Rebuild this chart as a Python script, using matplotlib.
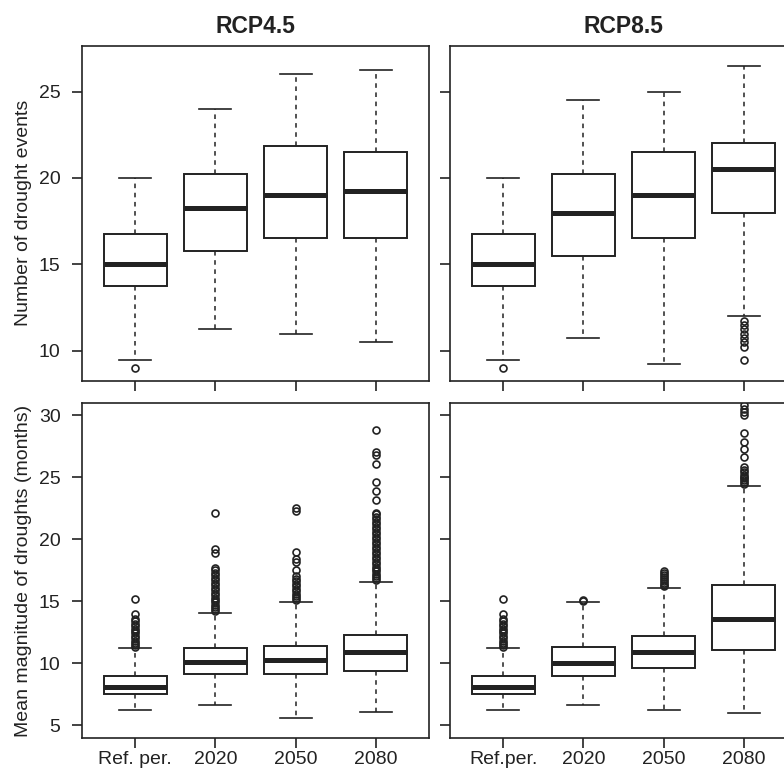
import matplotlib
matplotlib.use("Agg")
import matplotlib.pyplot as plt

plt.rcParams['font.family'] = ['Liberation Sans', 'DejaVu Sans']

periods = ["Ref. per.", "2020", "2050", "2080"]
periods_right = ["Ref.per.", "2020", "2050", "2080"]
scenarios = ["RCP4.5", "RCP8.5"]

# number of drought events: (whislo, q1, med, q3, whishi)
events_45 = [(9.5, 13.75, 15.0, 16.75, 20.0),
             (11.25, 15.75, 18.25, 20.25, 24.0),
             (11.0, 16.5, 19.0, 21.85, 26.0),
             (10.5, 16.5, 19.25, 21.5, 26.25)]
events_45_out = [[9.0], [], [], []]

events_85 = [(9.5, 13.75, 15.0, 16.75, 20.0),
             (10.75, 15.5, 18.0, 20.25, 24.5),
             (9.25, 16.5, 19.0, 21.5, 25.0),
             (12.0, 18.0, 20.5, 22.0, 26.5)]
events_85_out = [[9.0], [], [],
                 [11.75, 11.5, 11.25, 11.0, 10.75, 10.5, 10.25, 9.5]]

# mean magnitude of droughts (months)
magn_45 = [(6.2, 7.5, 8.1, 9.0, 11.2),
           (6.65, 9.15, 10.1, 11.2, 14.05),
           (5.6, 9.1, 10.25, 11.4, 14.95),
           (6.1, 9.4, 10.9, 12.3, 16.55)]
magn_45_out = [
    [11.3, 11.45, 11.6, 11.8, 12.0, 12.2, 12.4, 12.6, 12.8, 13.0, 13.2,
     13.4, 13.6, 14.0, 15.2],
    [14.2, 14.35, 14.5, 14.7, 14.9, 15.1, 15.3, 15.5, 15.7, 15.9, 16.1,
     16.3, 16.5, 16.7, 16.9, 17.1, 17.3, 17.5, 17.7, 18.9, 19.2, 22.1],
    [15.1, 15.25, 15.4, 15.6, 15.8, 16.0, 16.2, 16.4, 16.6, 16.8, 17.0,
     17.5, 18.2, 18.4, 19.0, 22.25, 22.5],
    [16.7, 16.85, 17.0, 17.2, 17.4, 17.6, 17.8, 18.0, 18.2, 18.4, 18.6,
     18.8, 19.0, 19.2, 19.4, 19.6, 19.8, 20.0, 20.2, 20.4, 20.6, 20.8,
     21.0, 21.2, 21.4, 21.6, 21.8, 22.0, 22.15, 23.2, 23.9, 24.6, 26.1,
     26.8, 27.0, 28.8]]

magn_85 = [(6.2, 7.5, 8.1, 9.0, 11.2),
           (6.6, 9.0, 10.0, 11.35, 14.9),
           (6.2, 9.6, 10.9, 12.2, 16.1),
           (5.95, 11.05, 13.6, 16.35, 24.3)]
magn_85_out = [
    [11.3, 11.45, 11.6, 11.8, 12.0, 12.2, 12.4, 12.6, 12.8, 13.0, 13.2,
     13.4, 13.6, 14.0, 15.2],
    [15.0, 15.1],
    [16.2, 16.35, 16.5, 16.65, 16.8, 16.95, 17.1, 17.25, 17.4],
    [24.45, 24.6, 24.75, 24.9, 25.05, 25.2, 25.4, 25.55, 25.85, 26.65,
     27.25, 27.8, 28.6, 30.0, 30.25, 30.5, 30.85]]

ink = "#222222"

fig = plt.figure(figsize=(7.84, 7.71), dpi=100)
w = 347 / 784
h = 335.5 / 771
positions = {
    (0, 0): [82 / 784, 1 - 381 / 771, w, h],
    (0, 1): [450 / 784, 1 - 381 / 771, w, h],
    (1, 0): [82 / 784, 1 - 738.3 / 771, w, h],
    (1, 1): [450 / 784, 1 - 738.3 / 771, w, h],
}

panels = {
    (0, 0): (events_45, events_45_out),
    (0, 1): (events_85, events_85_out),
    (1, 0): (magn_45, magn_45_out),
    (1, 1): (magn_85, magn_85_out),
}

for (r, c), (stats, outs) in panels.items():
    ax = fig.add_axes(positions[(r, c)])
    boxes = []
    for (lo, q1, med, q3, hi), fl in zip(stats, outs):
        boxes.append(dict(whislo=lo, q1=q1, med=med, q3=q3, whishi=hi,
                          fliers=fl))
    ax.bxp(boxes, positions=[1, 2, 3, 4], widths=0.79, showfliers=True,
           patch_artist=True,
           boxprops=dict(facecolor="white", edgecolor=ink, linewidth=1.4),
           medianprops=dict(color=ink, linewidth=3.6, solid_capstyle="butt"),
           whiskerprops=dict(color=ink, linewidth=1.1, linestyle=(0, (3, 3))),
           capprops=dict(color=ink, linewidth=1.2),
           capwidths=0.4,
           flierprops=dict(marker="o", markersize=5, markerfacecolor="none",
                           markeredgecolor=ink, markeredgewidth=1.2))
    ax.set_xlim(0.335, 4.665)
    if r == 0:
        ax.set_ylim(8.26, 27.66)
        ax.set_yticks([10, 15, 20, 25])
        ax.set_title(scenarios[c], fontsize=16.5, fontweight="bold",
                     color=ink, pad=9)
    else:
        ax.set_ylim(3.95, 31.0)
        ax.set_yticks([5, 10, 15, 20, 25, 30])
    ax.set_xticks([1, 2, 3, 4])
    if r == 1:
        ax.set_xticklabels(periods if c == 0 else periods_right)
    else:
        ax.set_xticklabels([])
    if c == 1:
        ax.set_yticklabels([])
    ax.tick_params(direction="out", length=7, width=1.2, color=ink,
                   labelsize=14, labelcolor=ink)
    ax.tick_params(axis="y", pad=8.5)
    ax.tick_params(axis="x", pad=2.5)
    for s in ax.spines.values():
        s.set_color(ink)
        s.set_linewidth(1.2)
    if c == 0:
        label = "Number of drought events" if r == 0 else "Mean magnitude of droughts (months)"
        ax.set_ylabel(label, fontsize=14, color=ink, labelpad=5)

fig.savefig("out.png", dpi=100)
